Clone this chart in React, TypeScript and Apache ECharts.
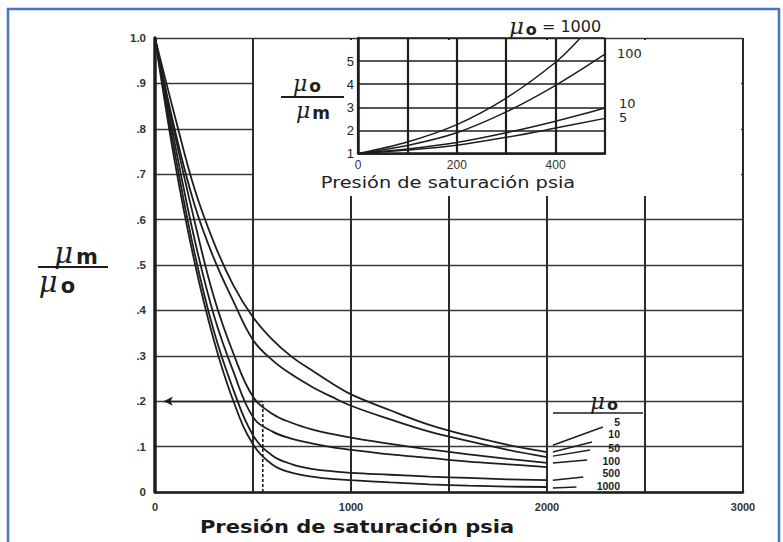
import React, { useEffect, useRef } from "react";
import * as echarts from "echarts";

// Main chart: ratio mu_m / mu_o versus saturation pressure (psia)
const PRESSURE = [0, 100, 200, 300, 400, 500, 600, 700, 800, 900, 1000, 1200, 1400, 1600, 1800, 2000];
const MU_5 = [1.0, 0.83, 0.67, 0.55, 0.455, 0.385, 0.335, 0.297, 0.268, 0.24, 0.215, 0.18, 0.148, 0.124, 0.104, 0.088];
const MU_10 = [1.0, 0.8, 0.635, 0.515, 0.42, 0.335, 0.29, 0.258, 0.232, 0.21, 0.19, 0.16, 0.133, 0.112, 0.093, 0.077];
const MU_50 = [1.0, 0.79, 0.6, 0.43, 0.305, 0.21, 0.172, 0.152, 0.138, 0.128, 0.12, 0.106, 0.094, 0.083, 0.073, 0.064];
const MU_100 = [1.0, 0.77, 0.56, 0.39, 0.265, 0.165, 0.133, 0.117, 0.107, 0.099, 0.093, 0.083, 0.075, 0.067, 0.061, 0.055];
const MU_500 = [1.0, 0.75, 0.53, 0.355, 0.225, 0.125, 0.08, 0.061, 0.051, 0.046, 0.042, 0.038, 0.034, 0.031, 0.028, 0.026];
const MU_1000 = [1.0, 0.73, 0.51, 0.335, 0.2, 0.105, 0.06, 0.042, 0.034, 0.029, 0.026, 0.021, 0.017, 0.014, 0.012, 0.011];
const MU_LABELS = ["5", "10", "50", "100", "500", "1000"];

// leader lines from curve ends to the mu_o labels
const LEADER_FROM = [[2030, 0.103], [2030, 0.088], [2030, 0.079], [2030, 0.064], [2030, 0.026], [2030, 0.009]];
const LEADER_TO = [[2285, 0.143], [2230, 0.11], [2220, 0.0925], [2205, 0.0705], [2185, 0.033], [2150, 0.011]];

// example reading (dashed guide with arrow)
const GUIDE_P = 550;
const GUIDE_V = 0.2;

// Inset: mu_o / mu_m versus saturation pressure
const INSET_P = [0, 100, 200, 300, 400, 500];
const INSET_P_1000 = [0, 100, 200, 300, 400, 450];
const IN_5 = [1, 1.15, 1.36, 1.7, 2.1, 2.52];
const IN_10 = [1, 1.2, 1.48, 1.9, 2.4, 2.97];
const IN_100 = [1, 1.35, 1.9, 2.8, 3.95, 5.3];
const IN_1000 = [1, 1.5, 2.25, 3.4, 4.95, 6.0];

const INK = "#1e1e1e";

export default function App() {
  const ref = useRef<HTMLDivElement>(null);

  useEffect(() => {
    if (!ref.current) return;
    const chart = echarts.init(ref.current, undefined, { renderer: "svg" });

    const mainSets = [MU_5, MU_10, MU_50, MU_100, MU_500, MU_1000];
    const mainSeries = mainSets.map((vals, i) => ({
      name: "mu" + MU_LABELS[i],
      type: "line",
      xAxisIndex: 0,
      yAxisIndex: 0,
      data: PRESSURE.map((p, j) => [p, vals[j]]),
      showSymbol: false,
      smooth: 0.4,
      lineStyle: { color: INK, width: 1.8 },
      z: 2,
    }));

    const leaderSeries = LEADER_FROM.map((from, i) => ({
      type: "line",
      xAxisIndex: 0,
      yAxisIndex: 0,
      data: [from, LEADER_TO[i]],
      showSymbol: false,
      lineStyle: { color: INK, width: 1.5 },
      z: 2,
    }));

    const guideSeries = {
      type: "line",
      xAxisIndex: 0,
      yAxisIndex: 0,
      data: [[GUIDE_P, 0], [GUIDE_P, GUIDE_V]],
      showSymbol: false,
      lineStyle: { color: INK, width: 1.6, type: [3, 2] },
      z: 2,
      markLine: {
        silent: true,
        symbol: ["none", "arrow"],
        symbolSize: [7, 9],
        label: { show: false },
        lineStyle: { color: INK, width: 1.4, type: "solid" },
        data: [[{ coord: [GUIDE_P, GUIDE_V] }, { coord: [45, GUIDE_V] }]],
      },
    };

    const insetSets = [
      { p: INSET_P, v: IN_5 },
      { p: INSET_P, v: IN_10 },
      { p: INSET_P, v: IN_100 },
      { p: INSET_P_1000, v: IN_1000 },
    ];
    const insetSeries = insetSets.map((s) => ({
      type: "line",
      xAxisIndex: 1,
      yAxisIndex: 1,
      data: s.p.map((p, j) => [p, s.v[j]]),
      showSymbol: false,
      smooth: 0.35,
      lineStyle: { color: INK, width: 1.5 },
      z: 6,
    }));

    const bigRich = {
      mu: { fontFamily: "DejaVu Serif", fontStyle: "italic", fontSize: 29, fill: INK },
      sub: { fontFamily: "DejaVu Sans", fontSize: 21, fill: INK, fontWeight: "bold", padding: [8, 0, 0, 3] },
    };
    const midRich = {
      mu: { fontFamily: "DejaVu Serif", fontStyle: "italic", fontSize: 22, fill: INK },
      sub: { fontFamily: "DejaVu Sans", fontSize: 17, fill: INK, fontWeight: "bold", padding: [5, 0, 0, 2] },
    };
    const muRich = {
      mu: { fontFamily: "DejaVu Serif", fontStyle: "italic", fontSize: 23, fill: INK },
      sub: { fontFamily: "DejaVu Sans", fontSize: 16, fill: INK, fontWeight: "bold", padding: [6, 0, 0, 2] },
    };

    const labelY = [422, 434, 448, 461, 473, 486];

    const option: any = {
      animation: false,
      backgroundColor: "#ffffff",
      grid: [
        { left: 155, top: 38, width: 588, height: 454, show: false },
        { left: 358, top: 38, width: 247, height: 115.5, show: false },
      ],
      xAxis: [
        {
          type: "value",
          gridIndex: 0,
          min: 0,
          max: 3000,
          interval: 500,
          axisLine: { show: true, onZero: false, lineStyle: { color: INK, width: 2.5 } },
          axisTick: { show: false },
          splitLine: { show: true, lineStyle: { color: "#2a2a2a", width: 2 } },
          axisLabel: {
            margin: 9,
            fontFamily: "Liberation Sans",
            fontWeight: "bold",
            fontSize: 11,
            color: "#333",
            formatter: (v: number) => (v % 1000 === 0 ? String(v) : ""),
          },
          z: 0,
        },
        {
          type: "value",
          gridIndex: 1,
          min: 0,
          max: 500,
          interval: 100,
          axisLine: { show: true, onZero: false, lineStyle: { color: INK, width: 2.5 } },
          axisTick: { show: false },
          splitLine: { show: true, lineStyle: { color: INK, width: 2.2 } },
          axisLabel: {
            margin: 5,
            fontFamily: "Liberation Sans",
            fontSize: 12,
            color: "#333",
            formatter: (v: number) => (v % 200 === 0 ? String(v) : ""),
          },
          z: 4,
        },
      ],
      yAxis: [
        {
          type: "value",
          gridIndex: 0,
          min: 0,
          max: 1,
          interval: 0.1,
          axisLine: { show: true, onZero: false, lineStyle: { color: INK, width: 3.5 } },
          axisTick: { show: false },
          splitLine: { show: true, lineStyle: { color: "#3a3a3a", width: 1.3 } },
          axisLabel: {
            margin: 9,
            fontFamily: "Liberation Sans",
            fontWeight: "bold",
            fontSize: 11.5,
            color: "#333",
            formatter: (v: number) => {
              const r = Math.round(v * 10);
              if (r === 0) return "0";
              if (r === 10) return "1.0";
              return "." + r;
            },
          },
          z: 0,
        },
        {
          type: "value",
          gridIndex: 1,
          min: 1,
          max: 6,
          interval: 1,
          axisLine: { show: true, onZero: false, lineStyle: { color: INK, width: 2.5 } },
          axisTick: { show: false },
          splitLine: { show: true, lineStyle: { color: INK, width: 1.6 } },
          axisLabel: {
            margin: 4,
            fontFamily: "Liberation Sans",
            fontSize: 13,
            color: "#222",
            formatter: (v: number) => (v >= 6 ? "" : String(v)),
          },
          z: 4,
        },
      ],
      series: [...mainSeries, ...leaderSeries, guideSeries, ...insetSeries],
      graphic: [
        // white box behind the inset
        { type: "rect", z: 1, silent: true, shape: { x: 254, y: 40, width: 487, height: 156 }, style: { fill: "#ffffff" } },
        // frame around the picture
        { type: "rect", z: 20, silent: true, shape: { x: 8, y: 9, width: 771, height: 545 }, style: { fill: "none", stroke: "#4a76c0", lineWidth: 2.5 } },
        // main y label: mu_m / mu_o
        { type: "text", z: 5, x: 76, y: 253, style: { text: "{mu|μ}{sub|m}", rich: bigRich, align: "center", verticalAlign: "middle" } },
        { type: "line", z: 5, shape: { x1: 38, y1: 267, x2: 108, y2: 267 }, style: { stroke: INK, lineWidth: 2 } },
        { type: "text", z: 5, x: 57, y: 282, style: { text: "{mu|μ}{sub|o}", rich: bigRich, align: "center", verticalAlign: "middle" } },
        // inset y label: mu_o / mu_m
        { type: "text", z: 5, x: 307, y: 83, style: { text: "{mu|μ}{sub|o}", rich: midRich, align: "center", verticalAlign: "middle" } },
        { type: "line", z: 5, shape: { x1: 281, y1: 97, x2: 344, y2: 97 }, style: { stroke: INK, lineWidth: 2 } },
        { type: "text", z: 5, x: 313, y: 110, style: { text: "{mu|μ}{sub|m}", rich: midRich, align: "center", verticalAlign: "middle" } },
        // inset title
        {
          type: "text", z: 5, x: 555, y: 26,
          style: {
            text: "{mu|μ}{sub|o}{eq| = 1000}",
            rich: { ...muRich, eq: { fontFamily: "DejaVu Sans", fontSize: 16, fill: INK } },
            align: "center", verticalAlign: "middle",
          },
        },
        // inset curve labels
        { type: "text", z: 5, x: 617, y: 53, style: { text: "100", fontFamily: "DejaVu Sans", fontSize: 13, fill: INK, align: "left", verticalAlign: "middle" } },
        { type: "text", z: 5, x: 619, y: 103, style: { text: "10", fontFamily: "DejaVu Sans", fontSize: 13, fill: INK, align: "left", verticalAlign: "middle" } },
        { type: "text", z: 5, x: 619, y: 117, style: { text: "5", fontFamily: "DejaVu Sans", fontSize: 13, fill: INK, align: "left", verticalAlign: "middle" } },
        // inset x title
        { type: "text", z: 5, x: 448, y: 183, scaleX: 1.25, style: { text: "Presión de saturación psia", fontFamily: "DejaVu Sans", fontSize: 15.5, fill: "#222", align: "center", verticalAlign: "middle" } },
        // main x title
        { type: "text", z: 5, x: 357, y: 527, scaleX: 1.2, style: { text: "Presión de saturación psia", fontFamily: "DejaVu Sans", fontWeight: "bold", fontSize: 17.5, fill: "#1a1a1a", align: "center", verticalAlign: "middle" } },
        // right legend heading mu_o
        { type: "text", z: 5, x: 604, y: 401, style: { text: "{mu|μ}{sub|o}", rich: muRich, align: "center", verticalAlign: "middle" } },
        { type: "line", z: 5, shape: { x1: 553, y1: 413, x2: 643, y2: 413 }, style: { stroke: INK, lineWidth: 1.5 } },
        ...MU_LABELS.map((t, i) => ({
          type: "text", z: 5, x: 620, y: labelY[i],
          style: { text: t, fontFamily: "Liberation Sans", fontWeight: "bold", fontSize: 10.5, fill: INK, align: "right", verticalAlign: "middle" },
        })),
      ],
    };

    chart.setOption(option);
    return () => chart.dispose();
  }, []);

  return (
    <div
      ref={ref}
      style={{ position: "fixed", left: 0, top: 0, width: 783, height: 542, background: "#fff" }}
    />
  );
}
